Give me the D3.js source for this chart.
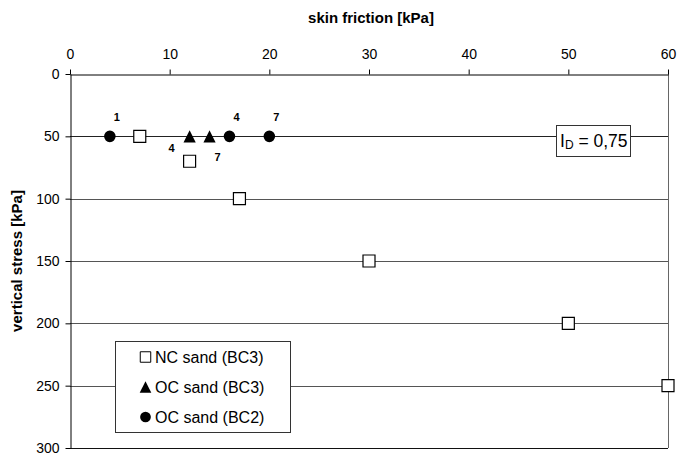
<!DOCTYPE html>
<html>
<head>
<meta charset="utf-8">
<script src="https://cdn.jsdelivr.net/npm/d3@7"></script>
<style>
  body { margin: 0; background: #fff; }
  text { font-family: "Liberation Sans", Arial, sans-serif; }
</style>
</head>
<body>
<div id="chart"></div>
<script>
// skin friction [kPa] vs vertical stress [kPa]
const ncSandBC3 = [[7, 50], [12, 70], [17, 100], [30, 150], [50, 200], [60, 250]];
const ocSandBC3 = [[12, 50], [14, 50]];
const ocSandBC2 = [[4, 50], [16, 50], [20, 50]];
const triLabels = ["4", "7"];
const circLabels = ["1", "4", "7"];
const xTicks = [0, 10, 20, 30, 40, 50, 60];
const yTicks = [0, 50, 100, 150, 200, 250, 300];
const legendNames = ["NC sand (BC3)", "OC sand (BC3)", "OC sand (BC2)"];

const W = 680, H = 455;
const plotL = 70, plotR = 668, plotT = 74, plotB = 448;

let svg = d3.select("#chart").append("svg")
    .attr("width", W)
    .attr("height", H);

let x = d3.scaleLinear().domain([0, 60]).range([plotL, plotR]);
let y = d3.scaleLinear().domain([0, 300]).range([plotT, plotB]);

// triangle as tall as it is wide, like the spreadsheet marker
let triType = {
    draw: function(ctx, size) {
        let h = Math.sqrt(size);
        ctx.moveTo(0, -h / 2);
        ctx.lineTo(h / 2, h / 2);
        ctx.lineTo(-h / 2, h / 2);
        ctx.closePath();
    }
};

// grid lines
svg.append("g")
    .selectAll("line")
    .data(yTicks.slice(1))
    .join("line")
    .attr("x1", plotL).attr("x2", plotR)
    .attr("y1", d => Math.round(y(d)) + 0.5)
    .attr("y2", d => Math.round(y(d)) + 0.5)
    .attr("stroke", d => d == 300 ? "#111" : (d == 50 ? "#222" : "#555"))
    .attr("stroke-width", 1);

// right border
svg.append("line")
    .attr("x1", plotR + 0.5).attr("x2", plotR + 0.5)
    .attr("y1", plotT).attr("y2", plotB)
    .attr("stroke", "#666");

// top axis
let xAxis = svg.append("g")
    .attr("transform", "translate(0," + (plotT + 0.5) + ")")
    .call(d3.axisTop(x).tickValues(xTicks).tickSize(5).tickSizeOuter(0).tickPadding(11));
xAxis.selectAll("text").attr("font-size", 14).attr("fill", "#000");

// left axis
let yAxis = svg.append("g")
    .attr("transform", "translate(" + (plotL + 0.5) + ",0)")
    .call(d3.axisLeft(y).tickValues(yTicks).tickSize(5).tickSizeOuter(0).tickPadding(6));
yAxis.selectAll("text").attr("font-size", 14).attr("fill", "#000");
svg.selectAll(".domain, .tick line").attr("stroke", "#000");

// axis titles
svg.append("text")
    .attr("x", 371).attr("y", 23)
    .attr("text-anchor", "middle")
    .attr("font-size", 15).attr("font-weight", "bold")
    .text("skin friction [kPa]");

svg.append("text")
    .attr("transform", "translate(22," + 261 + ") rotate(-90)")
    .attr("text-anchor", "middle")
    .attr("font-size", 15).attr("font-weight", "bold")
    .text("vertical stress [kPa]");

// markers
let sq = d3.symbol().type(d3.symbolSquare).size(144);
let tri = d3.symbol().type(triType).size(150);
let circ = d3.symbol().type(d3.symbolCircle).size(106);

svg.append("g").selectAll("path")
    .data(ncSandBC3)
    .join("path")
    .attr("d", sq)
    .attr("transform", d => "translate(" + x(d[0]) + "," + y(d[1]) + ")")
    .attr("fill", "#fff").attr("stroke", "#000").attr("stroke-width", 1.2);

svg.append("g").selectAll("path")
    .data(ocSandBC3)
    .join("path")
    .attr("d", tri)
    .attr("transform", d => "translate(" + x(d[0]) + "," + y(d[1]) + ")")
    .attr("fill", "#000");

svg.append("g").selectAll("path")
    .data(ocSandBC2)
    .join("path")
    .attr("d", circ)
    .attr("transform", d => "translate(" + x(d[0]) + "," + y(d[1]) + ")")
    .attr("fill", "#000");

// point labels
svg.append("g").selectAll("text")
    .data(ocSandBC2)
    .join("text")
    .attr("x", d => x(d[0]) + 7)
    .attr("y", d => y(d[1]) - 15)
    .attr("text-anchor", "middle")
    .attr("font-size", 11).attr("font-weight", "bold")
    .text((d, i) => circLabels[i]);

svg.append("g").selectAll("text")
    .data(ocSandBC3)
    .join("text")
    .attr("x", (d, i) => x(d[0]) + (i == 0 ? -18 : 8))
    .attr("y", (d, i) => y(d[1]) + (i == 0 ? 16 : 25))
    .attr("text-anchor", "middle")
    .attr("font-size", 11).attr("font-weight", "bold")
    .text((d, i) => triLabels[i]);

// I_D box
let idBox = svg.append("g");
idBox.append("rect")
    .attr("x", 556.5).attr("y", 125.5)
    .attr("width", 74).attr("height", 31)
    .attr("fill", "#fff").attr("stroke", "#333");
let idText = idBox.append("text")
    .attr("x", 560).attr("y", 147)
    .attr("font-size", 17.5);
idText.append("tspan").text("I");
idText.append("tspan").attr("font-size", 12).attr("dy", 1.5).text("D");
idText.append("tspan").attr("dy", -1.5).text(" = 0,75");

// legend
let legend = svg.append("g");
legend.append("rect")
    .attr("x", 115.5).attr("y", 341.5)
    .attr("width", 175).attr("height", 91)
    .attr("fill", "#fff").attr("stroke", "#333");

let legendSyms = [
    d3.symbol().type(d3.symbolSquare).size(110),
    d3.symbol().type(triType).size(135),
    d3.symbol().type(d3.symbolCircle).size(90)
];
let ly = d3.scalePoint().domain(legendNames).range([357, 417]);

legend.selectAll("path")
    .data(legendNames)
    .join("path")
    .attr("d", (d, i) => legendSyms[i]())
    .attr("transform", d => "translate(145.5," + ly(d) + ")")
    .attr("fill", (d, i) => i == 0 ? "#fff" : "#000")
    .attr("stroke", (d, i) => i == 0 ? "#000" : "none");

legend.selectAll("text")
    .data(legendNames)
    .join("text")
    .attr("x", 155)
    .attr("y", d => ly(d) + 6)
    .attr("font-size", 16)
    .text(d => d);
</script>
</body>
</html>
